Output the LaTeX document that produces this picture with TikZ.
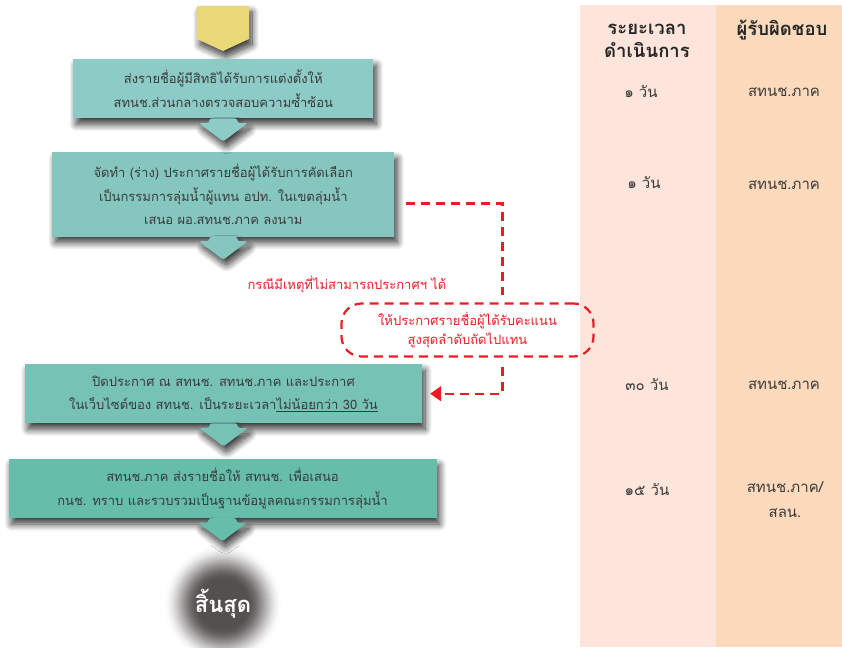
\documentclass[tikz,border=0pt]{standalone}
\usepackage{fontspec}
\setmainfont[Script=Thai]{Loma}
\usetikzlibrary{shadows.blur,arrows.meta,calc}
\definecolor{cA}{RGB}{140,203,198}
\definecolor{cB}{RGB}{133,199,191}
\definecolor{cC}{RGB}{118,194,181}
\definecolor{cD}{RGB}{102,189,170}
\definecolor{yel}{RGB}{233,216,120}
\definecolor{colA}{RGB}{253,229,219}
\definecolor{colB}{RGB}{253,218,188}
\definecolor{txt}{RGB}{58,58,58}
\definecolor{rd}{RGB}{236,28,36}
\definecolor{endc}{RGB}{84,80,80}
\tikzset{
  shad/.style={blur shadow={shadow xshift=3pt, shadow yshift=-6pt, shadow blur radius=7pt, shadow blur steps=12, shadow opacity=80}},
  stepbox/.style={rectangle, inner sep=0pt, align=center, text=txt, shad,
    font=\fontsize{13}{23.5}\selectfont},
  chev/.style={rounded corners=2.5pt, shad},
  reddash/.style={draw=rd, line width=2.2pt, dash pattern=on 9pt off 6pt},
  redtxt/.style={text=rd, align=center, font=\fontsize{13}{19}\selectfont},
  coltxt/.style={text=txt, align=center, font=\fontsize{15}{25}\selectfont},
  colhead/.style={text=black!85, align=center, font=\bfseries\fontsize{18.5}{23}\selectfont},
}
\newcommand\mychev[2]{%
  \fill[#2, chev] ($(#1.south)+(-14,0)$) -- ($(#1.south)+(-14,4.5)$) -- ($(#1.south)+(-24.5,4.5)$)
    -- ($(#1.south)+(0,23)$) -- ($(#1.south)+(24.5,4.5)$) -- ($(#1.south)+(14,4.5)$)
    -- ($(#1.south)+(14,0)$) -- cycle;}
\begin{document}
\begin{tikzpicture}[x=1pt,y=-1pt]
\useasboundingbox (0,0) rectangle (842,647);
% columns
\fill[colA] (580,5) rectangle (716,647);
\fill[colB] (716,5) rectangle (842,647);
\node[colhead] (h1) at (647,41) {ระยะเวลา\\ดำเนินการ};
\node[colhead] (h2) at (782,30) {ผู้รับผิดชอบ};
\node[coltxt] (t1) at (641,92) {๑ วัน};
\node[coltxt] (r1) at (784,92) {สทนช.ภาค};
\node[coltxt] (t2) at (644,183) {๑ วัน};
\node[coltxt] (r2) at (784,185) {สทนช.ภาค};
\node[coltxt] (t3) at (647,385) {๓๐ วัน};
\node[coltxt] (r3) at (784,385) {สทนช.ภาค};
\node[coltxt] (t4) at (647,490) {๑๕ วัน};
\node[coltxt] (r4) at (785,500) {สทนช.ภาค/\\สลน.};
% end (soft blurred disc, opaque colour steps over white)
\coordinate (ec) at (223,604);
\foreach \r in {60,59,...,20} {
  \pgfmathsetmacro\tt{min(1,(60-\r)/36)}
  \pgfmathsetmacro\pp{100*\tt*\tt*(3-2*\tt)}
  \fill[endc!\pp!white] (ec) circle (\r);}
% start marker
\fill[yel, shad] (197,6) -- (249,6) -- (249,39) -- (223,51) -- (197,39) -- cycle;
% boxes
\node[stepbox, fill=cA, minimum width=300pt, minimum height=59pt] (b1) at (223.3,88.8)
  {ส่งรายชื่อผู้มีสิทธิได้รับการแต่งตั้งให้\\สทนช.ส่วนกลางตรวจสอบความซ้ำซ้อน};
\node[stepbox, fill=cB, minimum width=342pt, minimum height=84pt] (b2) at (223.3,194.5)
  {จัดทำ (ร่าง) ประกาศรายชื่อผู้ได้รับการคัดเลือก\\เป็นกรรมการลุ่มน้ำผู้แทน อปท. ในเขตลุ่มน้ำ\\เสนอ ผอ.สทนช.ภาค ลงนาม};
\node[stepbox, fill=cC, minimum width=397pt, minimum height=59pt] (b3) at (223.5,393.7)
  {ปิดประกาศ ณ สทนช. สทนช.ภาค และประกาศ\\ในเว็บไซต์ของ สทนช. เป็นระยะเวลา\underline{ไม่น้อยกว่า 30 วัน}};
\node[stepbox, fill=cD, minimum width=428pt, minimum height=59pt] (b4) at (222.5,488.5)
  {สทนช.ภาค ส่งรายชื่อให้ สทนช. เพื่อเสนอ\\กนช. ทราบ และรวบรวมเป็นฐานข้อมูลคณะกรรมการลุ่มน้ำ};
% chevrons
\mychev{b1}{cA}
\mychev{b2}{cB}
\mychev{b3}{cC}
\mychev{b4}{cD}
\node[text=white, font=\bfseries\fontsize{22}{26}\selectfont] (end) at (ec) {สิ้นสุด};
% alternative path
\node[redtxt] (lab) at (347,285) {กรณีมีเหตุที่ไม่สามารถประกาศฯ ได้};
\node[redtxt, draw=rd, line width=2.2pt, dash pattern=on 9pt off 6pt, rounded corners=20pt,
  minimum width=252pt, minimum height=53pt] (alt) at (467.5,330)
  {ให้ประกาศรายชื่อผู้ได้รับคะแนน\\สูงสุดลำดับถัดไปแทน};
\coordinate (rs) at ($(b2.east)+(11,9)$);
\coordinate (rt) at (502.5,295);
\coordinate (rb) at (502.5,367);
\draw[reddash] (rs) -| (rt);
\draw[reddash, -{Triangle[length=11pt,width=15pt]}] (rb) |- ($(b3.east)+(8,0)$);
\end{tikzpicture}
\end{document}
